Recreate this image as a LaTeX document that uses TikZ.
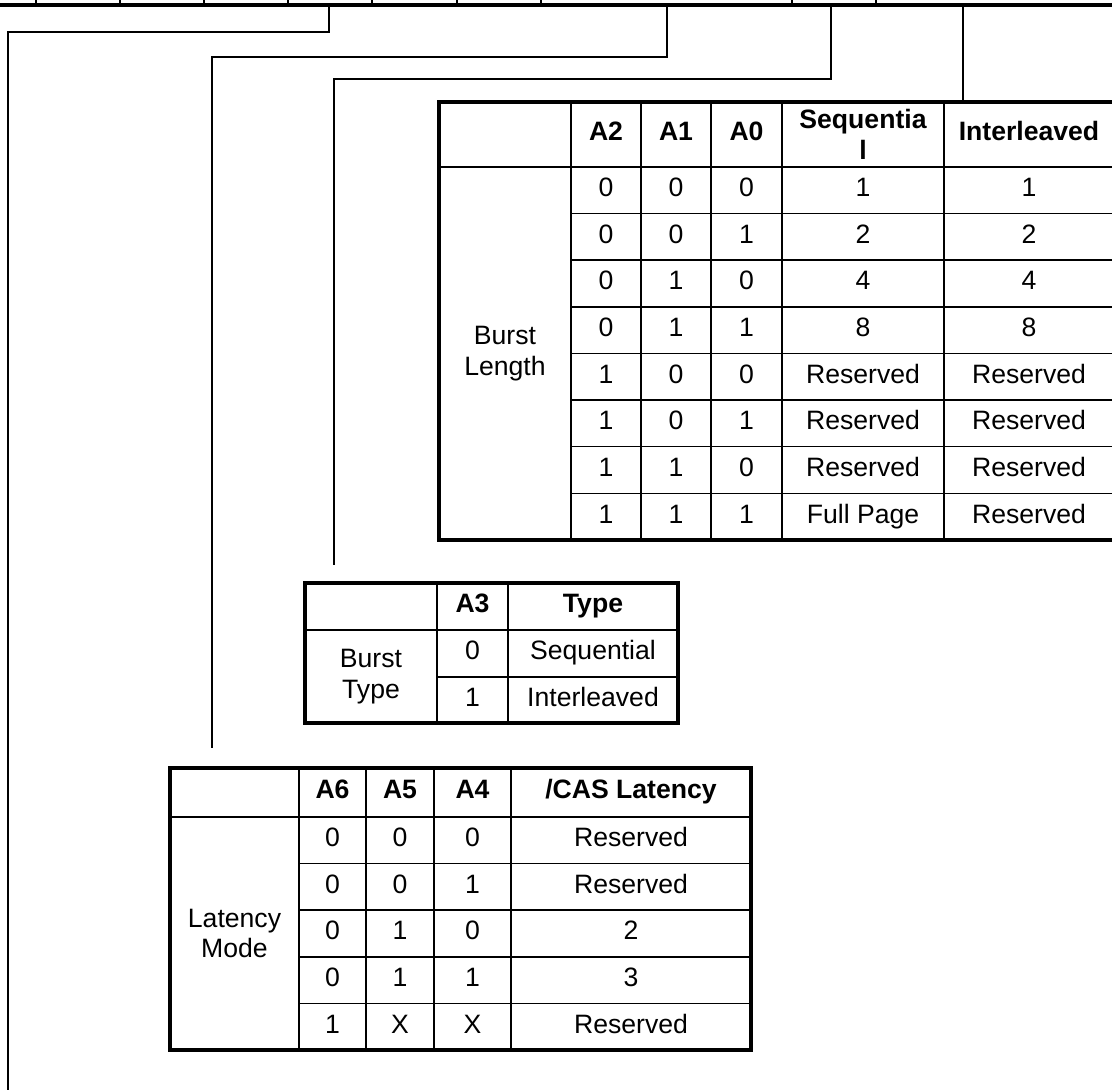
\documentclass[tikz,border=0pt]{standalone}
\usepackage{fontspec}
\setmainfont{Liberation Sans}
\usetikzlibrary{calc}

\begin{document}
\begin{tikzpicture}[
    % GLOBAL CFG
    x=0.5pt, y=-0.5pt,
    font=\fontsize{13.3}{15.2}\selectfont,
    % Styles
    frame/.style={% outer border of a table
        line width=2.2pt,
        },
    grid/.style={% inner lines of a table
        line width=0.75pt,
        },
    reg/.style={% lower edge of the register
        line width=2pt,
        },
    link/.style={% field to table
        line width=0.9pt,
        },
    cellt/.style={% one line cell text
        inner sep=0pt,
        text height=1.6ex,
        text depth=0.4ex,
        },
    multit/.style={% two line cell text
        inner sep=0pt,
        align=center,
        },
    headt/.style={% bold header text
        cellt,
        font=\fontsize{13.3}{15.2}\selectfont\bfseries,
        },
    ]

    \useasboundingbox (0,0) rectangle (1112,1090);
    \clip (0,0) rectangle (1112,1090);

    % Register edge with bit ticks
    \draw [reg] (-10,5) -- (1125,5);
    \foreach \x in {36,120,204,288,372,457,541,792,876}
        \draw [grid] (\x,-5) -- (\x,5);

    % Taps on the register named tap-#
    \coordinate (tap-op) at (329,5);
    \coordinate (tap-cl) at (667,5);
    \coordinate (tap-bt) at (831,5);
    \coordinate (tap-bl) at (963,5);

    % Burst length table
    \coordinate (bl-nw) at (439,102);
    \coordinate (bl-se) at (1118,540);
    \foreach \x in {571,641,711,782,944}
        \draw [grid] (\x,102) -- (\x,540);
    \draw [grid] (439,167) -- (1118,167);
    \foreach \k in {1,...,7}
        \draw [grid] (571,{167+\k*46.625}) -- (1118,{167+\k*46.625});
    \draw [frame] (bl-nw) rectangle (bl-se);

    \node [headt] (bl-a2) at (606,134.5) {A2};
    \node [headt] (bl-a1) at (676,134.5) {A1};
    \node [headt] (bl-a0) at (746.5,134.5) {A0};
    \node [multit, font=\fontsize{13.3}{15.2}\selectfont\bfseries] (bl-seq) at (863,134.5) {Sequentia\\l};
    \node [headt] (bl-int) at (1029,134.5) {Interleaved};
    \node [multit] (bl-lbl) at (505,353.5) {Burst\\Length};
    \foreach \a/\b/\c/\s/\i [count=\k from 0] in {0/0/0/1/1, 0/0/1/2/2, 0/1/0/4/4, 0/1/1/8/8,
        1/0/0/Reserved/Reserved, 1/0/1/Reserved/Reserved, 1/1/0/Reserved/Reserved, 1/1/1/Full Page/Reserved}{
        \node [cellt] (bl-\k-a2) at (606,{190.3+\k*46.625}) {\a};
        \node [cellt] (bl-\k-a1) at (676,{190.3+\k*46.625}) {\b};
        \node [cellt] (bl-\k-a0) at (746.5,{190.3+\k*46.625}) {\c};
        \node [cellt] (bl-\k-seq) at (863,{190.3+\k*46.625}) {\s};
        \node [cellt] (bl-\k-int) at (1029,{190.3+\k*46.625}) {\i};
    }

    % Burst type table
    \coordinate (bt-nw) at (305,583);
    \coordinate (bt-se) at (678,723);
    \foreach \x in {437,508}
        \draw [grid] (\x,583) -- (\x,723);
    \draw [grid] (305,630) -- (678,630);
    \draw [grid] (437,677) -- (678,677);
    \draw [frame] (bt-nw) rectangle (bt-se);

    \node [headt] (bt-a3) at (472.5,606.5) {A3};
    \node [headt] (bt-type) at (593,606.5) {Type};
    \node [multit] (bt-lbl) at (371,676.5) {Burst\\Type};
    \node [cellt] (bt-0) at (472.5,653.5) {0};
    \node [cellt] (bt-seq) at (593,653.5) {Sequential};
    \node [cellt] (bt-1) at (472.5,700) {1};
    \node [cellt] (bt-int) at (593,700) {Interleaved};

    % Latency mode table
    \coordinate (lm-nw) at (170,768);
    \coordinate (lm-se) at (751,1050);
    \foreach \x in {299,366,434,511}
        \draw [grid] (\x,768) -- (\x,1050);
    \draw [grid] (170,817) -- (751,817);
    \foreach \k in {1,...,4}
        \draw [grid] (299,{817+\k*46.6}) -- (751,{817+\k*46.6});
    \draw [frame] (lm-nw) rectangle (lm-se);

    \node [headt] (lm-a6) at (332.5,792.5) {A6};
    \node [headt] (lm-a5) at (400,792.5) {A5};
    \node [headt] (lm-a4) at (472.5,792.5) {A4};
    \node [headt] (lm-cas) at (631,792.5) {/CAS Latency};
    \node [multit] (lm-lbl) at (234.5,933.5) {Latency\\Mode};
    \foreach \a/\b/\c/\l [count=\k from 0] in {0/0/0/Reserved, 0/0/1/Reserved, 0/1/0/2, 0/1/1/3, 1/X/X/Reserved}{
        \node [cellt] (lm-\k-a6) at (332.5,{840.3+\k*46.6}) {\a};
        \node [cellt] (lm-\k-a5) at (400,{840.3+\k*46.6}) {\b};
        \node [cellt] (lm-\k-a4) at (472.5,{840.3+\k*46.6}) {\c};
        \node [cellt] (lm-\k-cas) at (631,{840.3+\k*46.6}) {\l};
    }

    % Free ends of the connectors
    \coordinate (op-end) at (8,1095);
    \coordinate (cl-end) at (212,748);
    \coordinate (bt-end) at (334,565);

    % Connectors
    \draw [link] (tap-op) -- ++(0,27) -| (op-end);
    \draw [link] (tap-cl) -- ++(0,52) -| (cl-end);
    \draw [link] (tap-bt) -- ++(0,74) -| (bt-end);
    \draw [link] (tap-bl) -- (tap-bl |- bl-nw);

\end{tikzpicture}
\end{document}
